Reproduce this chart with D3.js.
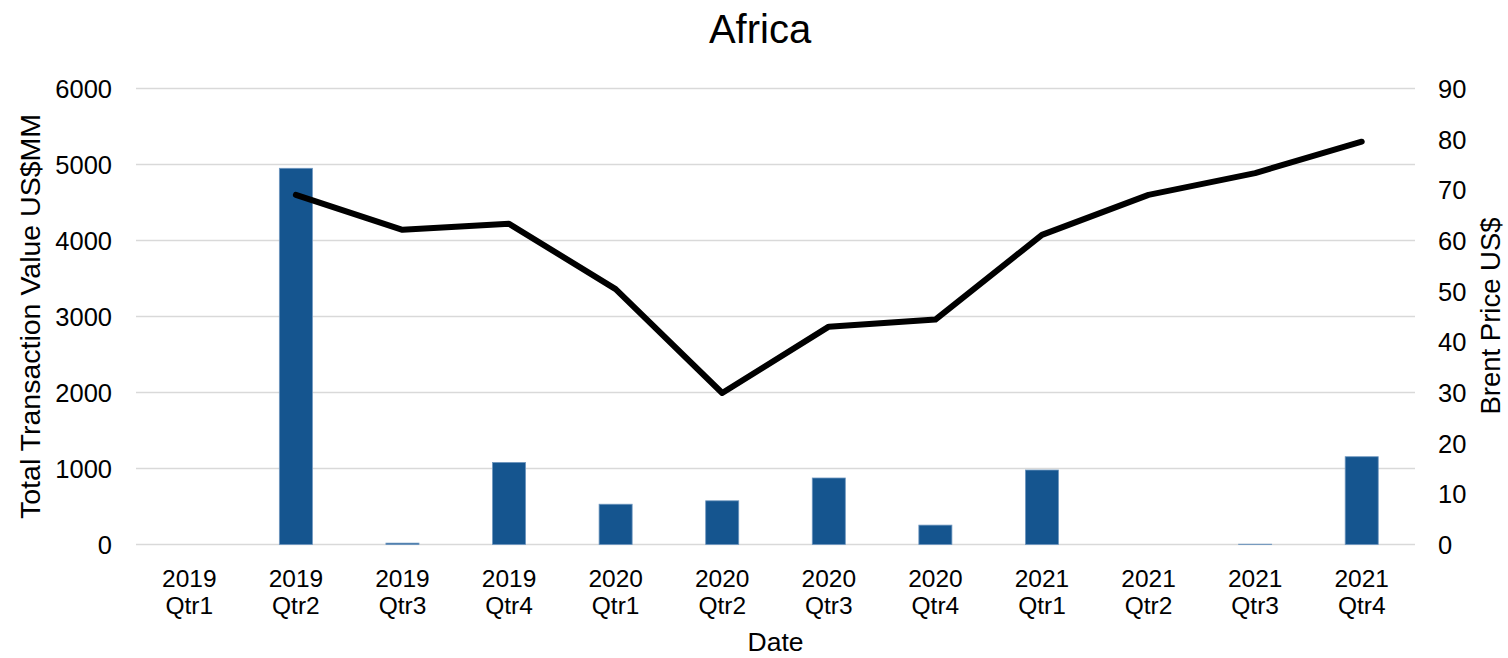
<!DOCTYPE html>
<html>
<head>
<meta charset="utf-8">
<script src="https://cdn.jsdelivr.net/npm/d3@7"></script>
<style>
  html, body { margin: 0; padding: 0; background: #fff; }
  svg { display: block; font-family: "Liberation Sans", Arial, sans-serif; }
</style>
</head>
<body>
<svg id="chart" width="1508" height="658"></svg>
<script>
// Quarterly categories (year / quarter shown on two lines)
const years = ["2019", "2019", "2019", "2019", "2020", "2020", "2020", "2020", "2021", "2021", "2021", "2021"];
const quarters = ["Qtr1", "Qtr2", "Qtr3", "Qtr4", "Qtr1", "Qtr2", "Qtr3", "Qtr4", "Qtr1", "Qtr2", "Qtr3", "Qtr4"];

// Total transaction value, US$MM (bars, left axis)
const transactionValue = [0, 4950, 18, 1080, 530, 575, 875, 255, 980, 0, 4, 1155];

// Brent price, US$ (line, right axis); no value for the first quarter
const brentPrice = [null, 69.0, 62.1, 63.3, 50.4, 29.9, 43.0, 44.4, 61.1, 69.0, 73.3, 79.5];

const leftTicks = [0, 1000, 2000, 3000, 4000, 5000, 6000];
const rightTicks = [0, 10, 20, 30, 40, 50, 60, 70, 80, 90];

const svg = d3.select("#chart");
const margin = { left: 136, right: 1415, top: 88.5, bottom: 544.5 };

const labels = years.map((y, i) => y + " " + quarters[i]);

const x = d3.scaleBand().domain(labels).range([margin.left, margin.right]).padding(0);
const yLeft = d3.scaleLinear().domain([0, 6000]).range([margin.bottom, margin.top]);
const yRight = d3.scaleLinear().domain([0, 90]).range([margin.bottom, margin.top]);

// Horizontal gridlines
svg.append("g")
  .selectAll("line")
  .data(leftTicks)
  .join("line")
  .attr("x1", margin.left)
  .attr("x2", margin.right)
  .attr("y1", d => yLeft(d))
  .attr("y2", d => yLeft(d))
  .attr("stroke", "#d9d9d9")
  .attr("stroke-width", 1.6);

// Bars
const barW = x.bandwidth() * 0.31;
svg.append("g")
  .selectAll("rect")
  .data(transactionValue)
  .join("rect")
  .attr("x", (d, i) => x(labels[i]) + x.bandwidth() / 2 - barW / 2)
  .attr("y", d => yLeft(d))
  .attr("width", barW)
  .attr("height", d => yLeft(0) - yLeft(d))
  .attr("fill", "#15558f")
  .attr("stroke", "#6e96bf")
  .attr("stroke-width", d => d > 0 ? 0.8 : 0);

// Brent price line
const line = d3.line()
  .defined(d => d != null)
  .x((d, i) => x(labels[i]) + x.bandwidth() / 2)
  .y(d => yRight(d));

svg.append("path")
  .datum(brentPrice)
  .attr("d", line)
  .attr("fill", "none")
  .attr("stroke", "#000")
  .attr("stroke-width", 6)
  .attr("stroke-linejoin", "round")
  .attr("stroke-linecap", "round");

// Left axis tick labels
const leftAxis = d3.axisLeft(yLeft).tickValues(leftTicks).tickSize(0).tickPadding(0).tickFormat(d3.format("d"));
const gl = svg.append("g").attr("transform", "translate(112,0)").call(leftAxis);
gl.select(".domain").remove();
gl.selectAll("text")
  .attr("font-size", "25.5px")
  .attr("fill", "#000")
  .attr("font-family", "Liberation Sans, Arial, sans-serif")
  .attr("dy", "0.35em");

// Right axis tick labels
const rightAxis = d3.axisRight(yRight).tickValues(rightTicks).tickSize(0).tickPadding(0).tickFormat(d3.format("d"));
const gr = svg.append("g").attr("transform", "translate(1438,0)").call(rightAxis);
gr.select(".domain").remove();
gr.selectAll("text")
  .attr("font-size", "25.5px")
  .attr("fill", "#000")
  .attr("font-family", "Liberation Sans, Arial, sans-serif")
  .attr("dy", "0.35em");

// Category labels on two lines
const bottomAxis = d3.axisBottom(x).tickSize(0).tickFormat(() => "");
const gb = svg.append("g").attr("transform", `translate(0,${margin.bottom})`).call(bottomAxis);
gb.select(".domain").remove();
gb.selectAll(".tick text").remove();
gb.selectAll(".tick").each(function (d, i) {
  const t = d3.select(this);
  t.append("text")
    .attr("text-anchor", "middle")
    .attr("font-size", "24.5px")
    .attr("fill", "#000")
    .attr("font-family", "Liberation Sans, Arial, sans-serif")
    .attr("y", 42)
    .text(years[i]);
  t.append("text")
    .attr("text-anchor", "middle")
    .attr("font-size", "24.5px")
    .attr("fill", "#000")
    .attr("font-family", "Liberation Sans, Arial, sans-serif")
    .attr("y", 69)
    .text(quarters[i]);
});

// Title
svg.append("text")
  .attr("x", 760)
  .attr("y", 43)
  .attr("text-anchor", "middle")
  .attr("font-size", "40px")
  .attr("fill", "#000")
  .text("Africa");

// Axis titles
svg.append("text")
  .attr("x", 775.5)
  .attr("y", 651)
  .attr("text-anchor", "middle")
  .attr("font-size", "26.5px")
  .attr("fill", "#000")
  .text("Date");

svg.append("text")
  .attr("transform", "translate(40,316.5) rotate(-90)")
  .attr("text-anchor", "middle")
  .attr("font-size", "28.5px")
  .attr("fill", "#000")
  .text("Total Transaction Value US$MM");

svg.append("text")
  .attr("transform", "translate(1500,316) rotate(-90)")
  .attr("text-anchor", "middle")
  .attr("font-size", "27.5px")
  .attr("fill", "#000")
  .text("Brent Price US$");
</script>
</body>
</html>
